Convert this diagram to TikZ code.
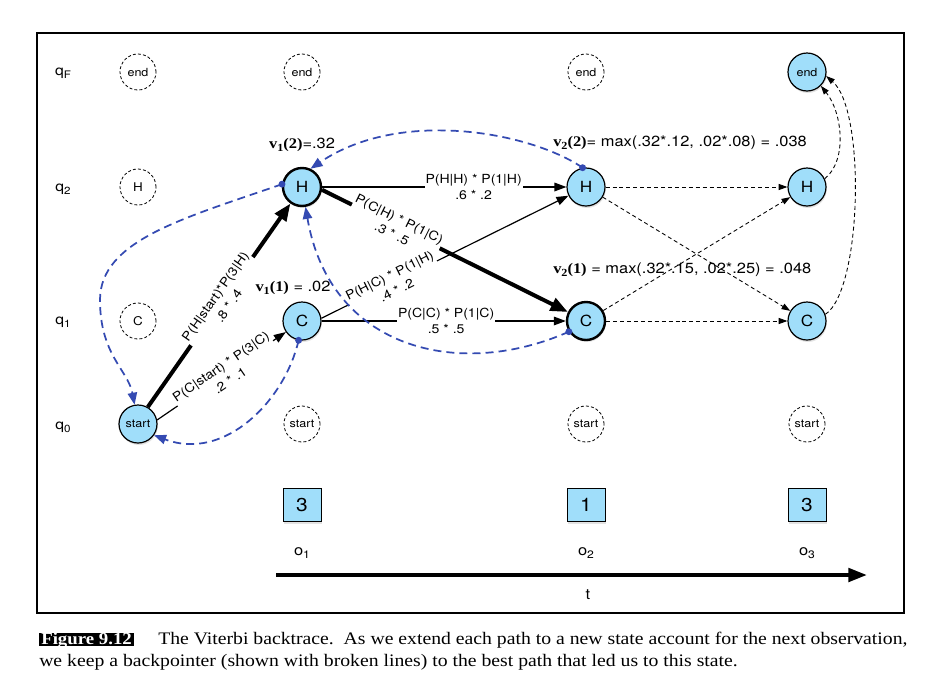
\documentclass[tikz,border=0pt]{standalone}
\usepackage{fontspec}
\setmainfont[FakeStretch=1.12]{TeX Gyre Heros}
\newfontfamily\timesfont[FakeStretch=1.12]{Liberation Serif}
\usetikzlibrary{arrows.meta,shadows}
\definecolor{stateblue}{RGB}{160,222,250}
\definecolor{backblue}{RGB}{52,74,178}
\newcommand\fsz[1]{\fontsize{#1}{#1}\selectfont}
\newcommand\sub[1]{\raisebox{-0.45ex}{\scalebox{0.74}{#1}}}
\newcommand\vlab[2]{{\timesfont\bfseries v\sub{#1}(#2)}}
\tikzset{
  shade1/.style={drop shadow={shadow xshift=0.6pt, shadow yshift=-1.5pt, opacity=0.22}},
  state/.style={circle, draw, line width=0.9pt, fill=stateblue, minimum size=28.5pt,
    inner sep=0pt, font=\fsz{11.5}, shade1},
  smallstate/.style={state, font=\fsz{8.4}},
  boldborder/.style={line width=1.8pt},
  ghost/.style={circle, draw, dash pattern=on 2.2pt off 1.6pt, line width=0.6pt,
    minimum size=27pt, inner sep=0pt, font=\fsz{8.4}},
  obs/.style={rectangle, draw, line width=0.7pt, fill=stateblue, minimum width=28.5pt,
    minimum height=25pt, inner sep=0pt, font=\fsz{14}, shade1},
  rowlab/.style={font=\fsz{10.5}},
  vl/.style={font=\fsz{11}, inner sep=0pt},
  elab/.style={font=\fsz{9.4}, fill=white, inner sep=0.6pt,
    align=center, sloped},
  thin/.style={line width=0.9pt, -{Triangle[length=9pt, width=6.5pt]}},
  thick/.style={line width=3pt, -{Triangle[length=13pt, width=10pt]}},
  bptr/.style={dash pattern=on 3pt off 2.2pt, line width=0.65pt,
    -{Triangle[length=6.5pt, width=4.5pt]}},
  back/.style={backblue, line width=1.3pt, dash pattern=on 6pt off 3.8pt,
    -{Triangle[length=9pt, width=7pt]}},
  bdot/.style={fill=backblue}
}
\begin{document}
\begin{tikzpicture}[x=0.75pt, y=-0.75pt]
\useasboundingbox (0,0) rectangle (946,693);
\fill[white] (0,0) rectangle (946,693);
\draw[line width=0.8pt] (37,33) rectangle (904,613);

% row labels
\node[rowlab] (qF) at (63,73) {q\sub{F}};
\node[rowlab] (q2) at (63,189) {q\sub{2}};
\node[rowlab] (q1) at (63,322) {q\sub{1}};
\node[rowlab] (q0) at (63,427) {q\sub{0}};

% ghost states
\node[ghost] (gE0) at (138,72) {end};
\node[ghost, font=\fsz{9}] (gH0) at (138,187) {H};
\node[ghost, font=\fsz{9}] (gC0) at (138,321) {C};
\node[ghost] (gE1) at (302,72) {end};
\node[ghost] (gE2) at (586,72) {end};
\node[ghost] (gS1) at (302,424) {start};
\node[ghost] (gS2) at (586,424) {start};
\node[ghost] (gS3) at (807,424) {start};

% real states
\node[smallstate] (S) at (138,424) {start};
\node[state, boldborder] (H1) at (302,187) {H};
\node[state] (C1) at (302,321) {C};
\node[state] (H2) at (586,187) {H};
\node[state, boldborder] (C2) at (586,321) {C};
\node[state] (H3) at (807,187) {H};
\node[state] (C3) at (807,321) {C};
\node[smallstate] (E3) at (807,72) {end};

% observations
\node[obs] (o1box) at (302,505) {3};
\node[obs] (o2box) at (586,505) {1};
\node[obs] (o3box) at (807,505) {3};
\node[font=\fsz{11}] (o1) at (302,553) {o\sub{1}};
\node[font=\fsz{11}] (o2) at (586,553) {o\sub{2}};
\node[font=\fsz{11}] (o3) at (807,553) {o\sub{3}};
\coordinate (t0) at (276,575);
\coordinate (t1) at (867,575);
\draw[line width=3pt, -{Triangle[length=14pt, width=10pt]}] (t0) -- (t1);
\node[font=\fsz{11}] (tlab) at (588,595) {t};

% viterbi values
\node[vl] (v12) at (302,145) {\vlab{1}{2}=.32};
\node[vl] (v11) at (293,288) {\vlab{1}{1} = .02};
\node[vl, anchor=west] (v22) at (553,143) {\vlab{2}{2}= max(.32*.12, .02*.08) = .038};
\node[vl, anchor=west] (v21) at (553,270) {\vlab{2}{1} = max(.32*.15, .02*.25) = .048};

% forward transitions
\draw[thick] (S.60) -- node[elab, pos=0.52] {P(H|start)*P(3|H)\\[3pt].8 * .4} (H1);
\draw[thin] (S.12) -- node[elab, pos=0.53] {P(C|start) * P(3|C)\\[3pt].2 * .1} (C1);
\draw[thin] (H1.east) -- node[elab, pos=0.62] {P(H|H) * P(1|H)\\[3pt].6 * .2} (H2);
\draw[thin] (C1.east) -- node[elab, pos=0.51] {P(C|C) * P(1|C)\\[3pt].5 * .5} (C2);
\draw[thick] (H1.-8) -- node[elab, pos=0.3] {P(C|H) * P(1|C)\\[3pt].3 * .5} (C2);
\draw[thin] (C1.8) -- node[elab, pos=0.29] {P(H|C) * P(1|H)\\[3pt].4 * .2} (H2);

% later backpointers (black dashed)
\draw[bptr] (H2) -- (H3);
\draw[bptr] (H2) -- (C3);
\draw[bptr] (C2) -- (H3);
\draw[bptr] (C2) -- (C3);
\draw[bptr] (H3.25) .. controls (848,160) and (842,112) .. (E3.-45);
\draw[bptr] (C3.20) .. controls (862,290) and (866,110) .. (E3.-12);

% blue backpointers
\draw[back] (H2.100) .. controls (530,132) and (400,108) .. (H1.65);
\draw[back] (C2.212) .. controls (460,380) and (330,350) .. (H1.-80);
\draw[back] (H1.172) .. controls (185,218) and (100,240) .. (100,300)
   .. controls (100,355) and (128,370) .. (S.100);
\draw[back] (C1.-100) .. controls (285,400) and (225,462) .. (S.-35);
\fill[bdot] (H2.100) circle (2.6pt);
\fill[bdot] (C2.212) circle (2.6pt);
\fill[bdot] (H1.172) circle (2.6pt);
\fill[bdot] (C1.-100) circle (2.6pt);

% caption
\node[anchor=base west, fill=black, text=white, inner xsep=1.5pt, inner ysep=1.2pt,
  text height=0.7em, text depth=0.05em, font=\timesfont\bfseries\fsz{12.6}] (figlab) at (39,644) {Figure 9.12};
\node[anchor=base west, inner sep=0pt, font=\timesfont\fsz{13.2}] (cap1) at (158,644)
  {The Viterbi backtrace.\ \ As we extend each path to a new state account for the next observation,};
\node[anchor=base west, inner sep=0pt, font=\timesfont\fsz{13.2}] (cap2) at (39,666)
  {we keep a backpointer (shown with broken lines) to the best path that led us to this state.};
\end{tikzpicture}
\end{document}
